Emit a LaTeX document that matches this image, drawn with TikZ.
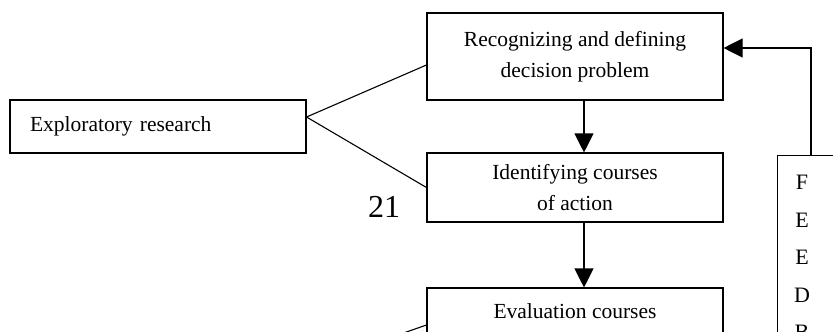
\documentclass[tikz,border=0pt]{standalone}
\usepackage{fontspec}
\setmainfont{Liberation Serif}
\usetikzlibrary{arrows.meta,calc}
\begin{document}
\begin{tikzpicture}[x=1pt,y=-1pt,
  box/.style={draw, line width=1.1pt, rectangle, inner sep=0pt, align=center, font=\fontsize{21.5}{30.5}\selectfont},
  txt/.style={inner sep=0pt, font=\fontsize{21.5}{30.5}\selectfont},
  conn/.style={line width=1.1pt},
  arr/.style={line width=1.1pt, -{Triangle[length=19pt,width=19pt]}},
]
\useasboundingbox (0,0) rectangle (833,332);
\clip (0,0) rectangle (833,332);
% boxes
\node[box, minimum width=296pt, minimum height=87pt] (rec) at (575,56.5) {Recognizing and defining\\decision problem};
\node[box, minimum width=296pt, minimum height=69pt] (ide) at (575,187.5) {Identifying courses\\of action};
\node[box, minimum width=296pt, minimum height=69pt] (eva) at (575,322.5) {};
\node[txt, anchor=base] (evt) at (575,318) {Evaluation courses};
\node[box, minimum width=296pt, minimum height=53pt, text width=256pt, align=left] (exp) at (158,126.5) {Exploratory research};
\node[box, minimum width=80pt, minimum height=220pt, anchor=north west] (fb) at (777,155) {};
\node[inner sep=0pt, anchor=north, align=center, font=\fontsize{22}{37.5}\selectfont] (fbt) at (802,175) {F\\E\\E\\D\\B};
\node[inner sep=0pt, anchor=base west, font=\fontsize{32}{38}\selectfont] (pg) at (368,217) {21};
% junction points
\coordinate (ej) at ([yshift=9.5pt]exp.east);
\coordinate (lowj) at (306,367);
% connectors
\draw[conn] (ej) -- ([yshift=-8.5pt]rec.west);
\draw[conn] (ej) -- (ide.west);
\draw[conn] (lowj) -- ([yshift=-2.5pt]eva.west);
\draw[arr] ([xshift=9pt]rec.south) -- ([xshift=9pt]ide.north);
\draw[arr] ([xshift=9pt]ide.south) -- ([xshift=9pt]eva.north);
\draw[arr] ([xshift=34pt]fb.north west) |- ([yshift=8.5pt]rec.east);
\end{tikzpicture}
\end{document}
